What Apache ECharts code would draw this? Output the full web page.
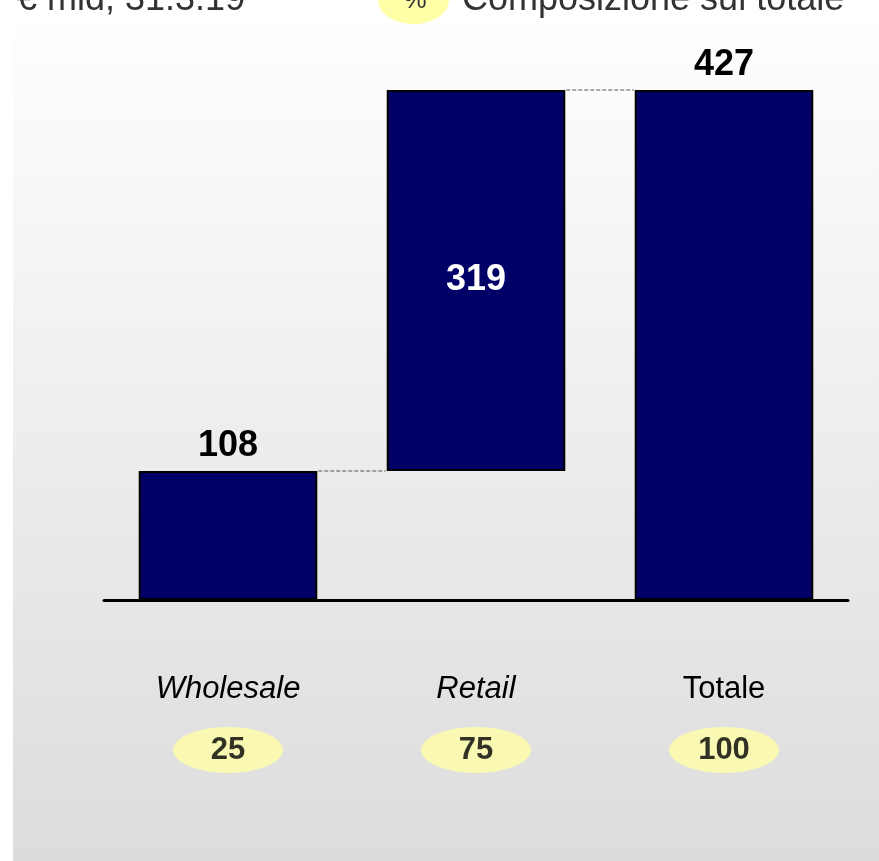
<!DOCTYPE html>
<html><head><meta charset="utf-8">
<script src="https://cdn.jsdelivr.net/npm/echarts@6/dist/echarts.min.js"></script>
<style>html,body{margin:0;padding:0;background:#fff}#c{width:879px;height:861px}</style>
</head><body><div id="c"></div><script>
const categories = ['Wholesale', 'Retail', 'Totale'];
const values = [108, 319, 427];
const bases = [0, 108, 0];
const shares = [25, 75, 100];
const italicCats = [true, true, false];
const headerUnit = '€ mld, 31.3.19';
const headerLegendSymbol = '%';
const headerLegend = 'Composizione sul totale';

const FONT = '"Liberation Sans", Arial, sans-serif';
const chart = echarts.init(document.getElementById('c'));

const barItems = values.map((v, i) => {
  const inside = i === 1;
  return {
    value: v,
    label: {
      show: true,
      position: inside ? 'inside' : 'top',
      distance: 7,
      color: inside ? '#ffffff' : '#000000',
      fontSize: 36, fontWeight: 'bold', fontFamily: FONT
    }
  };
});

const option = {
  backgroundColor: '#ffffff',
  animation: false,
  grid: [
    { left: 104, width: 744, top: 90, height: 510 },
    { left: 104, width: 744, top: 727, height: 46 }
  ],
  xAxis: [
    {
      type: 'category', gridIndex: 0, data: categories,
      axisLine: { show: true, lineStyle: { color: '#000', width: 3 } },
      axisTick: { show: false },
      axisLabel: {
        margin: 74, fontFamily: FONT, fontSize: 31, color: '#000',
        formatter: (v) => italicCats[categories.indexOf(v)] ? '{it|' + v + '}' : '{nm|' + v + '}',
        rich: {
          it: { fontStyle: 'italic', fontSize: 31, fontFamily: FONT, color: '#000' },
          nm: { fontSize: 31, fontFamily: FONT, color: '#000' }
        }
      },
      splitLine: { show: false }
    },
    { type: 'category', gridIndex: 1, data: categories, show: false }
  ],
  yAxis: [
    { type: 'value', gridIndex: 0, min: 0, max: 427, show: false, splitLine: { show: false } },
    { type: 'value', gridIndex: 1, min: -1, max: 1, show: false, splitLine: { show: false } }
  ],
  series: [
    {
      type: 'bar', stack: 'wf', xAxisIndex: 0, yAxisIndex: 0,
      data: bases, barWidth: '72%',
      itemStyle: { color: 'transparent', borderWidth: 0 },
      silent: true
    },
    {
      type: 'bar', stack: 'wf', xAxisIndex: 0, yAxisIndex: 0,
      data: barItems, barWidth: '72%',
      itemStyle: { color: '#000066', borderColor: '#000000', borderWidth: 2 }
    },
    {
      type: 'scatter', xAxisIndex: 1, yAxisIndex: 1,
      data: shares.map((s, i) => [categories[i], 0, s]),
      symbol: 'circle', symbolSize: [110, 46],
      itemStyle: { color: '#ffffa8' },
      label: {
        show: true, position: 'inside',
        formatter: (p) => String(p.value[2]),
        color: '#000', fontSize: 31, fontWeight: 'bold', fontFamily: FONT
      }
    }
  ]
};
chart.setOption(option);

const band = 744 / categories.length;
const half = band * 0.72 / 2;
const graphics = [
  {
    type: 'rect', z: -10, silent: true,
    shape: { x: 13, y: 25, width: 866, height: 836 },
    style: {
      fill: new echarts.graphic.LinearGradient(0, 0, 0, 1, [
        { offset: 0, color: '#fefefe' },
        { offset: 1, color: '#dcdcdc' }
      ])
    }
  },
  {
    type: 'text', x: 17, y: 0, z: 10,
    style: { text: headerUnit, fontSize: 36, fontFamily: FONT, fill: '#333333', align: 'left', verticalAlign: 'middle' }
  },
  {
    type: 'ellipse', z: 9,
    shape: { cx: 413.5, cy: 0, rx: 35.5, ry: 24 },
    style: { fill: '#ffffa8' }
  },
  {
    type: 'text', x: 415, y: 1, z: 10,
    style: { text: headerLegendSymbol, fontSize: 26, fontFamily: FONT, fill: '#333333', align: 'center', verticalAlign: 'middle' }
  },
  {
    type: 'text', x: 462, y: 0, z: 10,
    style: { text: headerLegend, fontSize: 36, fontFamily: FONT, fill: '#333333', align: 'left', verticalAlign: 'middle' }
  }
];
for (let i = 0; i < categories.length - 1; i++) {
  const lvl = bases[i] + values[i];
  const p1 = chart.convertToPixel({ gridIndex: 0 }, [categories[i], lvl]);
  const p2 = chart.convertToPixel({ gridIndex: 0 }, [categories[i + 1], lvl]);
  graphics.push({
    type: 'line', z: 5, silent: true,
    shape: { x1: p1[0] + half + 1, y1: p1[1], x2: p2[0] - half - 1, y2: p2[1] },
    style: { stroke: '#555555', lineWidth: 1, lineDash: [4, 2] }
  });
}
chart.setOption({ graphic: graphics });
</script></body></html>
